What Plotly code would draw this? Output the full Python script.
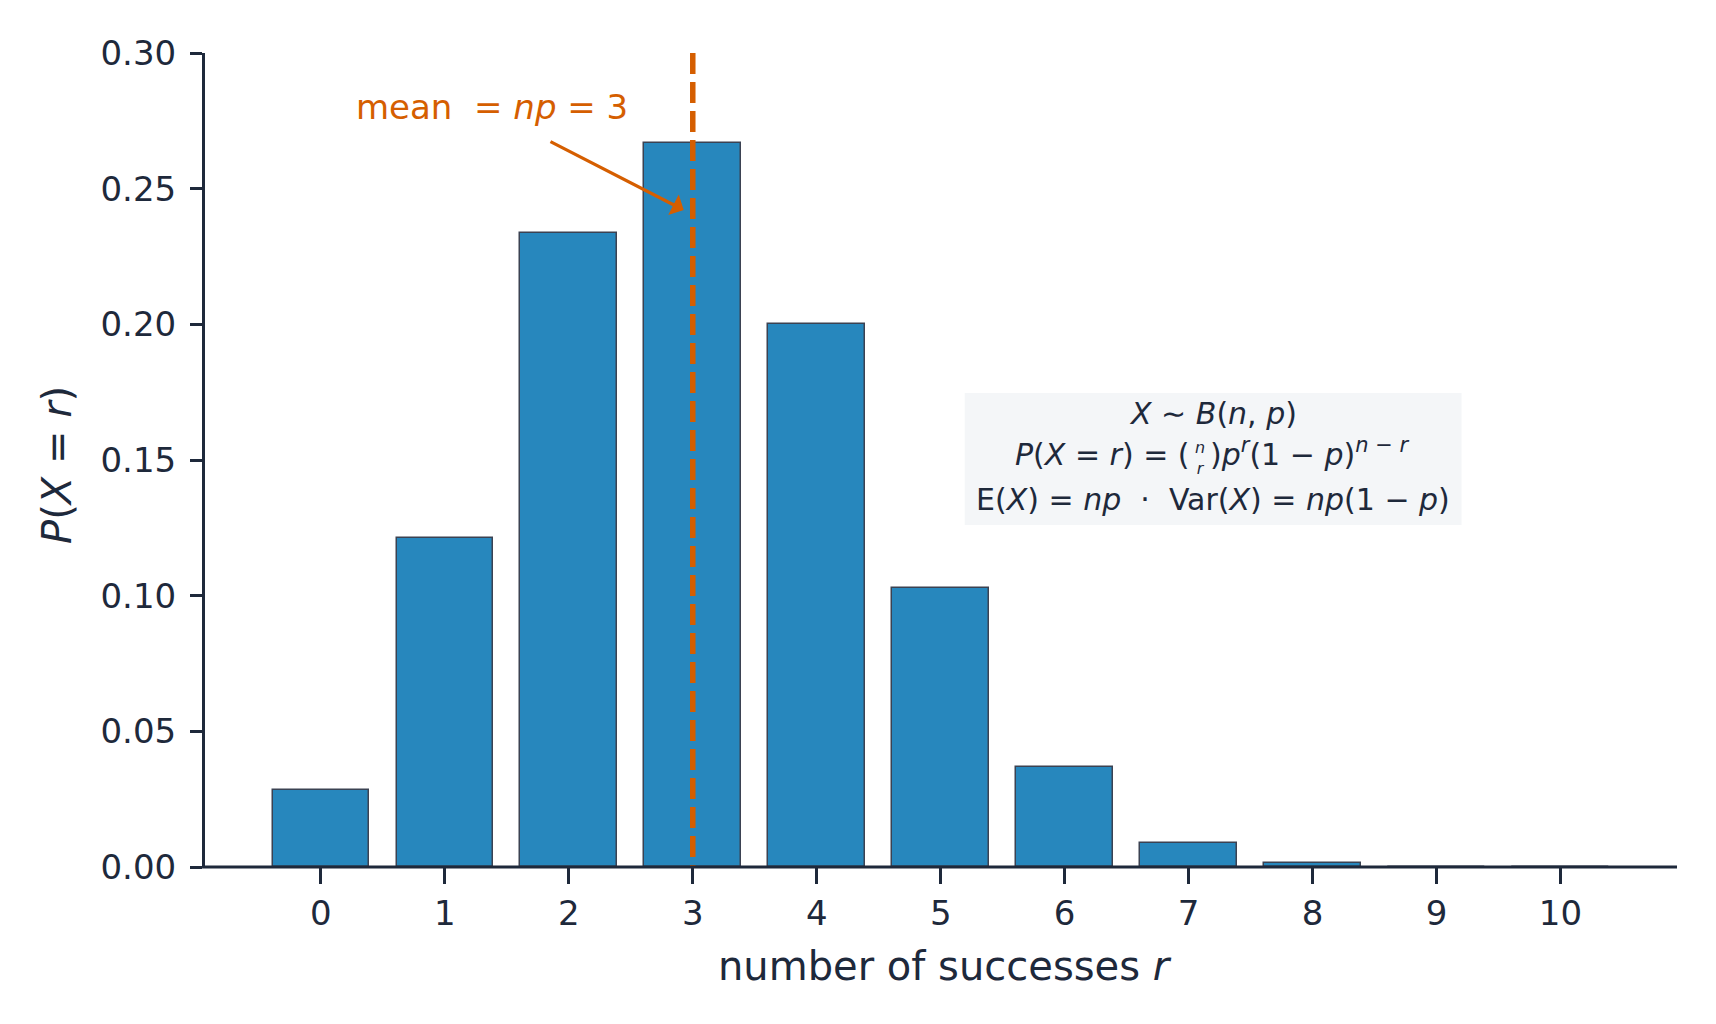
import plotly.graph_objects as go

# ---- data ----
successes = [0, 1, 2, 3, 4, 5, 6, 7, 8, 9, 10]
probabilities = [0.0282, 0.1211, 0.2335, 0.2668, 0.2001, 0.1029, 0.0368, 0.0090, 0.0014, 0.0001, 0.0000]
mean_value = 3
y_ticks = [0.00, 0.05, 0.10, 0.15, 0.20, 0.25, 0.30]
y_tick_labels = ["0.00", "0.05", "0.10", "0.15", "0.20", "0.25", "0.30"]

FONT = "DejaVu Sans"
INK = "#1e293b"
BAR = "#2787bd"
EDGE = "#3b4252"
ORANGE = "#d55e00"

fig = go.Figure()
fig.add_trace(go.Bar(
    x=successes, y=probabilities, width=0.78,
    marker=dict(color=BAR, line=dict(color=EDGE, width=1.5)),
    hoverinfo="skip", showlegend=False,
))

# mean line
fig.add_shape(type="line", xref="x", yref="y", x0=mean_value, x1=mean_value,
              y0=0.30, y1=0.0, line=dict(color=ORANGE, width=5.5, dash="21px,8px"),
              layer="above")
# bottom spine (drawn over the bars, centred on the bottom edge like the reference)
fig.add_shape(type="line", xref="paper", yref="paper", x0=-0.002, x1=1, y0=0, y1=0,
              line=dict(color=INK, width=3), layer="above")

# formula box
fig.add_shape(type="rect", xref="x", yref="y", x0=5.194, x1=9.202, y0=0.1260, y1=0.1747,
              fillcolor="#f4f6f8", line=dict(width=0), layer="below")

ann = []
ann.append(dict(x=1.379, y=0.2801, xref="x", yref="y", showarrow=False,
                xanchor="center", yanchor="middle",
                text="mean  = <i>np</i> = 3", font=dict(family=FONT, size=34, color=ORANGE)))
ann.append(dict(x=2.927, y=0.2421, ax=1.84, ay=0.2676, xref="x", yref="y", axref="x", ayref="y",
                text="", showarrow=True, arrowhead=1, arrowsize=1.2, arrowwidth=3.2,
                arrowcolor=ORANGE, standoff=0, startstandoff=0))

box_font = dict(family=FONT, size=30, color=INK)
ann.append(dict(x=7.198, y=0.1673, xref="x", yref="y", showarrow=False, font=box_font,
                xanchor="center", yanchor="middle",
                text="<i>X</i> ∼ <i>B</i>(<i>n</i>, <i>p</i>)"))
# second line split around the binomial coefficient
BINOM_X = 7.09
LINE2_BOTTOM = 0.1448
ann.append(dict(x=BINOM_X, y=LINE2_BOTTOM, xref="x", yref="y", showarrow=False, font=box_font,
                xanchor="right", yanchor="bottom", xshift=-8,
                text="<i>P</i>(<i>X</i> = <i>r</i>) = ("))
ann.append(dict(x=BINOM_X, y=0.1509, xref="x", yref="y", showarrow=False,
                xanchor="center", yanchor="middle",
                font=dict(family=FONT, size=16, color=INK), text="<i>n</i><br><i>r</i>"))
ann.append(dict(x=BINOM_X, y=LINE2_BOTTOM, xref="x", yref="y", showarrow=False, font=box_font,
                xanchor="left", yanchor="bottom", xshift=8,
                text=")<i>p</i><sup><i>r</i></sup>(1 − <i>p</i>)<sup><i>n</i> − <i>r</i></sup>"))
ann.append(dict(x=7.198, y=0.1353, xref="x", yref="y", showarrow=False, font=box_font,
                xanchor="center", yanchor="middle",
                text="E(<i>X</i>) = <i>np</i>  ·  Var(<i>X</i>) = <i>np</i>(1 − <i>p</i>)"))

# axis titles
ann.append(dict(x=0.5024, y=-0.1216, xref="paper", yref="paper", showarrow=False,
                xanchor="center", yanchor="middle",
                text="number of successes <i>r</i>", font=dict(family=FONT, size=40, color=INK)))
ann.append(dict(x=-0.1005, y=0.494, xref="paper", yref="paper", showarrow=False, textangle=-90,
                xanchor="center", yanchor="middle",
                text="<i>P</i>(<i>X</i> = <i>r</i>)", font=dict(family=FONT, size=40, color=INK)))

fig.update_layout(
    width=1700, height=1008,
    margin=dict(l=197, r=31, t=45, b=149),
    paper_bgcolor="white", plot_bgcolor="white",
    font=dict(family=FONT, color=INK),
    annotations=ann,
    bargap=0,
)
fig.update_xaxes(range=[-0.935, 10.94], tickvals=successes, ticktext=[str(s) for s in successes],
                 showline=False, ticks="outside", ticklen=16,
                 tickwidth=3, tickcolor=INK, showgrid=False, zeroline=False,
                 tickfont=dict(family=FONT, size=34, color=INK))
fig.update_yaxes(range=[0, 0.30], tickvals=y_ticks, ticktext=y_tick_labels,
                 showline=True, linecolor=INK, linewidth=3, ticks="outside", ticklen=12,
                 tickwidth=3, tickcolor=INK, showgrid=False, zeroline=False,
                 ticklabelstandoff=7,
                 tickfont=dict(family=FONT, size=34, color=INK))

fig.write_html("out.html")
